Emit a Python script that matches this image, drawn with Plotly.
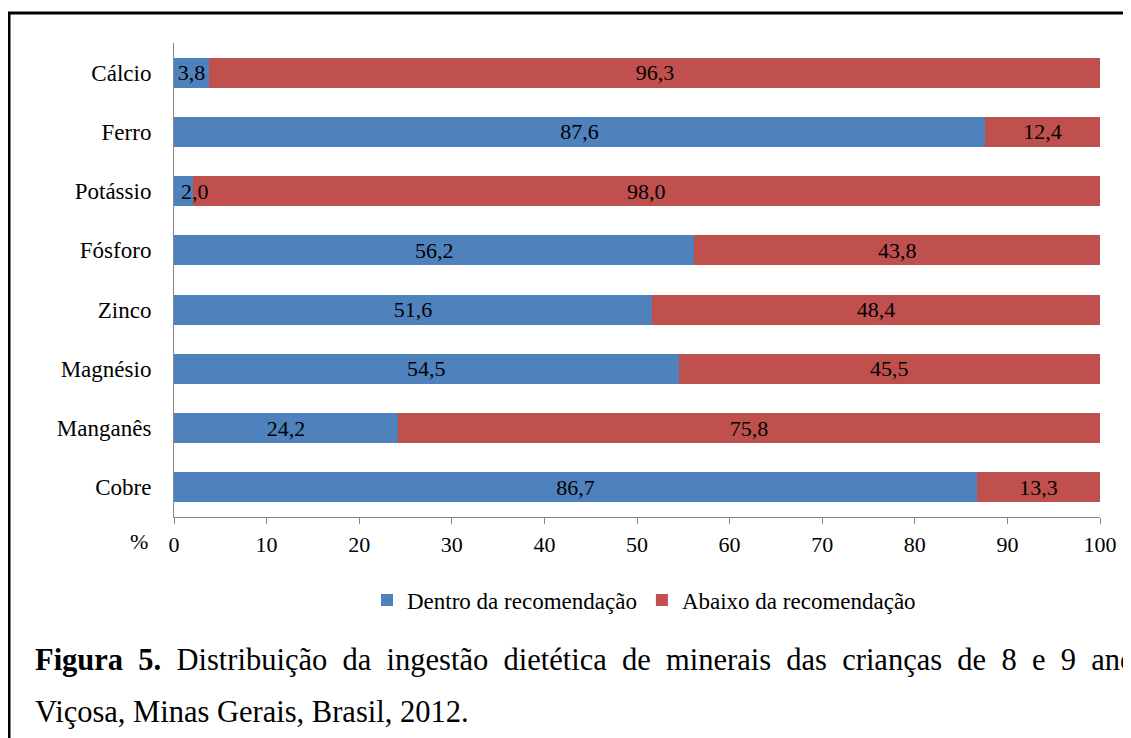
import plotly.graph_objects as go

categories = ["Cálcio", "Ferro", "Potássio", "Fósforo", "Zinco", "Magnésio", "Manganês", "Cobre"]
dentro = [3.8, 87.6, 2.0, 56.2, 51.6, 54.5, 24.2, 86.7]
abaixo = [96.3, 12.4, 98.0, 43.8, 48.4, 45.5, 75.8, 13.3]
series_names = ["Dentro da recomendação", "Abaixo da recomendação"]
x_ticks = [0, 10, 20, 30, 40, 50, 60, 70, 80, 90, 100]

caption_bold = ["Figura", "5."]
caption_rest = ["Distribuição", "da", "ingestão", "dietética", "de", "minerais", "das",
                "crianças", "de", "8", "e", "9", "anos"]
caption_line2 = "Viçosa, Minas Gerais, Brasil, 2012."

BLUE = "#4F81BD"
RED = "#C0504D"
FONT = "Liberation Serif"
OFF = 8  # page body margin
SMALL = 3.0  # labels of bars narrower than this are drawn from the bar start
JUSTIFY = " \u00a0"  # widened word gap to mimic the justified first caption line


def fmt(v):
    return f"{v:.1f}".replace(".", ",")


fig = go.Figure()
small_labels = []
for vals, name, color in [(dentro, series_names[0], BLUE), (abaixo, series_names[1], RED)]:
    texts = []
    for cat, v in zip(categories, vals):
        if v < SMALL:
            texts.append("")
            small_labels.append((cat, v))
        else:
            texts.append(fmt(v))
    fig.add_trace(go.Bar(
        y=categories, x=vals, name=name, orientation="h",
        marker=dict(color=color, line=dict(width=0)),
        text=texts, textposition="inside", textangle=0,
        insidetextanchor="middle", constraintext="none",
        textfont=dict(family=FONT, size=22, color="black"),
        cliponaxis=True,
    ))

W, H = 1131 - OFF, 738 - OFF
L, T = 174 - OFF, 43 - OFF
PR, PB = 1100 - OFF, 517 - OFF
R, B = W - PR, H - PB
pw, ph = W - L - R, H - T - B


def px_x(p):
    return (p - OFF - L) / pw


def px_y(p):
    return (H - B - (p - OFF)) / ph


cap_font = dict(family=FONT, size=30.5, color="black")
line1 = "<b>" + JUSTIFY.join(caption_bold) + "</b>" + JUSTIFY + JUSTIFY.join(caption_rest)

annotations = [
    dict(text="%", xref="paper", yref="paper", x=px_x(150), y=px_y(541), xanchor="right",
         yanchor="middle", showarrow=False, font=dict(family=FONT, size=22, color="black")),
    dict(text=line1, xref="paper", yref="paper", x=px_x(33), y=px_y(660),
         xanchor="left", yanchor="middle", showarrow=False, font=cap_font),
    dict(text=caption_line2, xref="paper", yref="paper", x=px_x(33), y=px_y(712),
         xanchor="left", yanchor="middle", showarrow=False, font=cap_font),
]
for cat, v in small_labels:
    annotations.append(dict(text=fmt(v), x=0, y=cat, xref="x", yref="y", xanchor="left",
                            yanchor="middle", xshift=5, showarrow=False,
                            font=dict(family=FONT, size=22, color="black")))

fig.update_layout(
    width=W, height=H,
    barmode="stack", bargap=0.49,
    margin=dict(l=L, r=R, t=T, b=B, pad=0),
    plot_bgcolor="white", paper_bgcolor="white",
    font=dict(family=FONT, size=22, color="black"),
    showlegend=True,
    legend=dict(orientation="h", x=px_x(644), xanchor="center", y=px_y(600), yanchor="middle",
                font=dict(family=FONT, size=23, color="black"), traceorder="normal"),
    xaxis=dict(range=[0, 100], tickvals=x_ticks, ticktext=[str(t) for t in x_ticks],
               showgrid=False, zeroline=False, showline=True, linecolor="#868686", linewidth=1,
               ticks="outside", ticklen=6, tickcolor="#868686", ticklabelstandoff=2,
               tickfont=dict(family=FONT, size=22, color="black")),
    yaxis=dict(categoryorder="array", categoryarray=categories[::-1], autorange=False,
               range=[-0.5, len(categories) - 0.5],
               showgrid=False, zeroline=False, showline=True, linecolor="#868686", linewidth=1,
               ticks="", ticklabelstandoff=17,
               tickfont=dict(family=FONT, size=23, color="black")),
    shapes=[dict(type="rect", xref="paper", yref="paper",
                 x0=px_x(9), x1=px_x(1170), y0=px_y(780), y1=px_y(13),
                 line=dict(color="black", width=3), fillcolor="rgba(0,0,0,0)", layer="above")],
    annotations=annotations,
)

fig.write_html("out.html")
